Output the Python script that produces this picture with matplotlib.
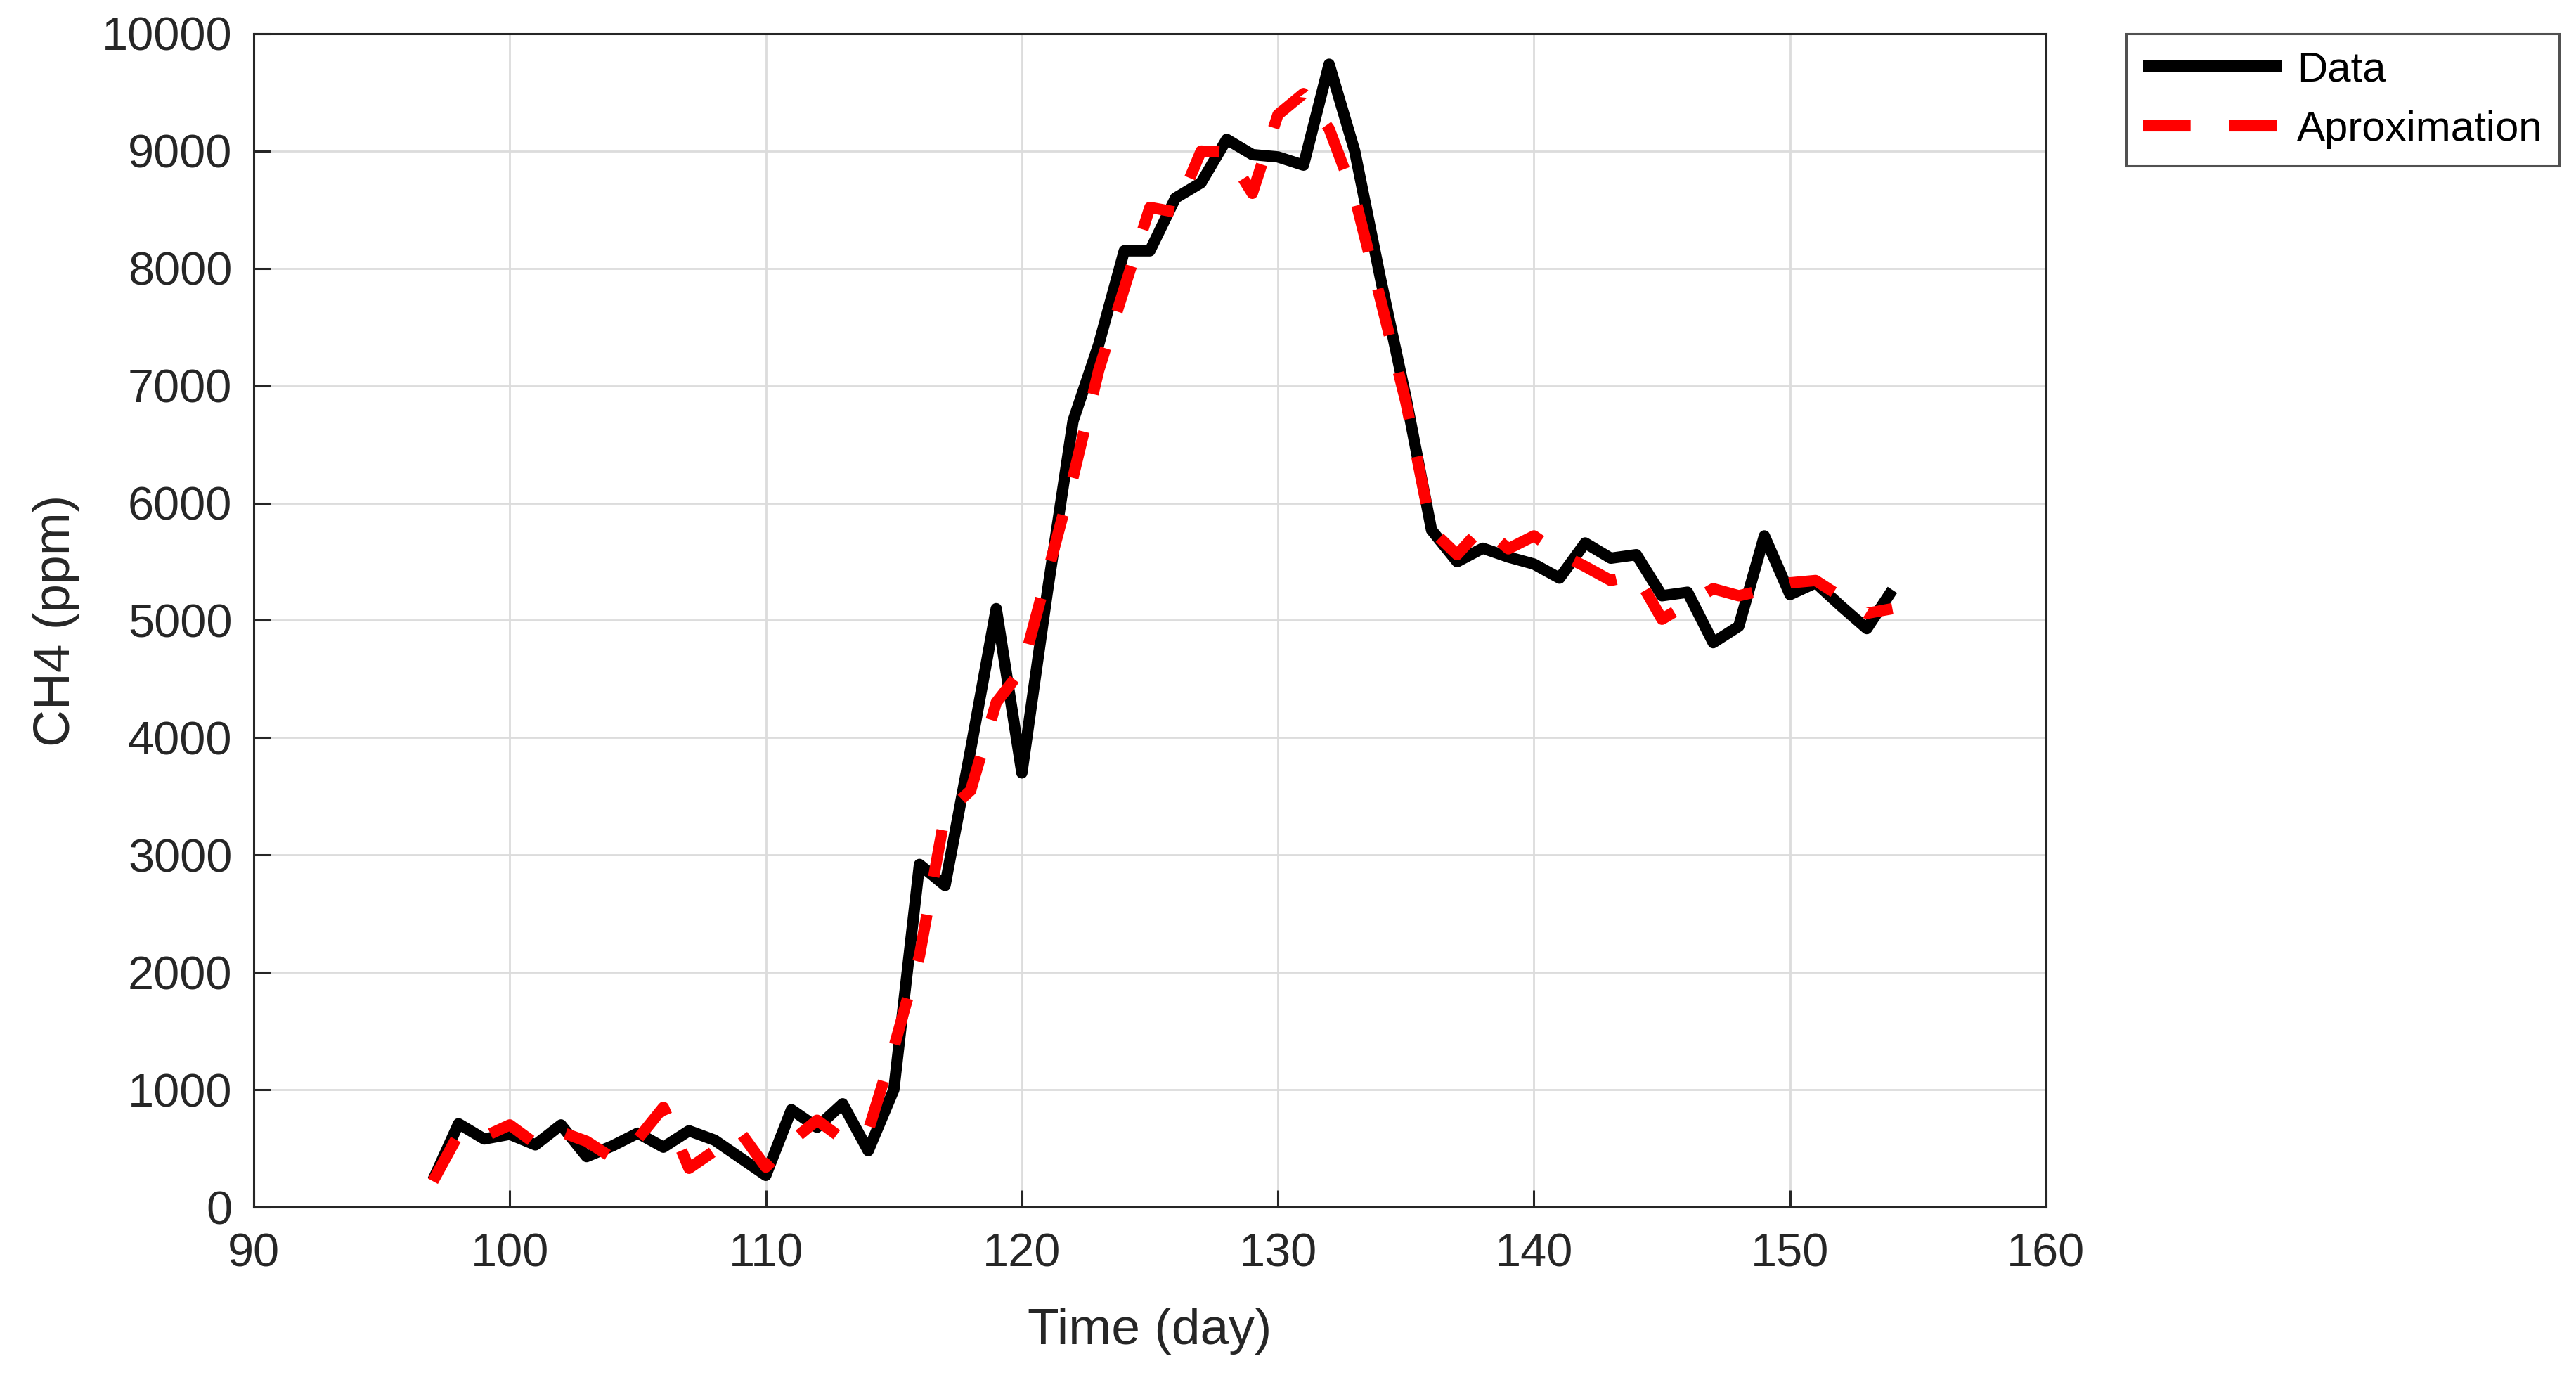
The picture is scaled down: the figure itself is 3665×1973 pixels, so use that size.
import matplotlib
matplotlib.use("Agg")
import matplotlib.pyplot as plt
import numpy as np

plt.rcParams['font.family'] = ['Liberation Sans', 'DejaVu Sans']

days = list(range(97, 155))
data_ch4 = [230, 710, 580, 620, 530, 700, 430, 520, 630, 510,
            650, 570, 420, 270, 830, 680, 880, 480, 1000, 2920,
            2740, 3900, 5100, 3700, 5250, 6700, 7350, 8150, 8150, 8600,
            8730, 9100, 8970, 8950, 8880, 9740, 9000, 7920, 6900, 5770,
            5500, 5615, 5540, 5480, 5360, 5660, 5530, 5560, 5210, 5240,
            4810, 4950, 5720, 5220, 5320, 5120, 4930, 5260]
approx_ch4 = [220, 620, 600, 700, 540, 640, 560, 420, 580, 850,
              330, 480, 640, 340, 560, 740, 580, 650, 1360, 2140,
              3350, 3550, 4300, 4580, 5400, 6220, 7130, 7830, 8520, 8480,
              9000, 8990, 8640, 9310, 9490, 9190, 8610, 7740, 6860, 5770,
              5560, 5800, 5610, 5720, 5570, 5460, 5340, 5390, 5010, 5140,
              5270, 5210, 5260, 5320, 5340, 5200, 5060, 5100]
series_labels = ["Data", "Aproximation"]
x_ticks = [90, 100, 110, 120, 130, 140, 150, 160]
y_ticks = [0, 1000, 2000, 3000, 4000, 5000, 6000, 7000, 8000, 9000, 10000]

W, H, DPI = 3666, 1973, 200
fig = plt.figure(figsize=(W / DPI, H / DPI), dpi=DPI)
ax = fig.add_axes([361 / W, 1 - 1717 / H, (2911 - 361) / W, (1717 - 48) / H])

txt = '#262626'
ax.plot(days, data_ch4, color='black', lw=5.8, solid_joinstyle='round',
        solid_capstyle='butt', label=series_labels[0], zorder=3)
ax.plot(days, approx_ch4, color='#ff0000', lw=5.8, linestyle=(0, (4.2, 3.4)),
        dash_capstyle='butt', label=series_labels[1], zorder=4)

ax.set_xlim(90, 160)
ax.set_ylim(0, 10000)
ax.set_xticks(x_ticks)
ax.set_yticks(y_ticks)
ax.grid(True, color='#dcdcdc', linewidth=1.0)
ax.set_axisbelow(True)
for s in ax.spines.values():
    s.set_color(txt)
    s.set_linewidth(1.1)
ax.tick_params(direction='in', length=8.5, width=1.1, color=txt,
               labelsize=24, labelcolor=txt, top=False, right=False)
ax.tick_params(axis='y', pad=11)
ax.tick_params(axis='x', pad=13)
ax.set_xlabel('Time (day)', fontsize=26.4, color=txt, labelpad=16)
ax.set_ylabel('CH4 (ppm)', fontsize=26.4, color=txt, labelpad=11)

leg = fig.legend(loc='upper left', bbox_to_anchor=(3025 / W, 1 - 48 / H),
                 fontsize=21.6, frameon=True, fancybox=False,
                 handlelength=3.3, handletextpad=0.35, labelspacing=0.5,
                 borderpad=0.4, borderaxespad=0)
leg.get_frame().set_edgecolor(txt)
leg.get_frame().set_linewidth(1.1)
for t in leg.get_texts():
    t.set_color('black')

fig.savefig('out.png', dpi=DPI, facecolor='white')
